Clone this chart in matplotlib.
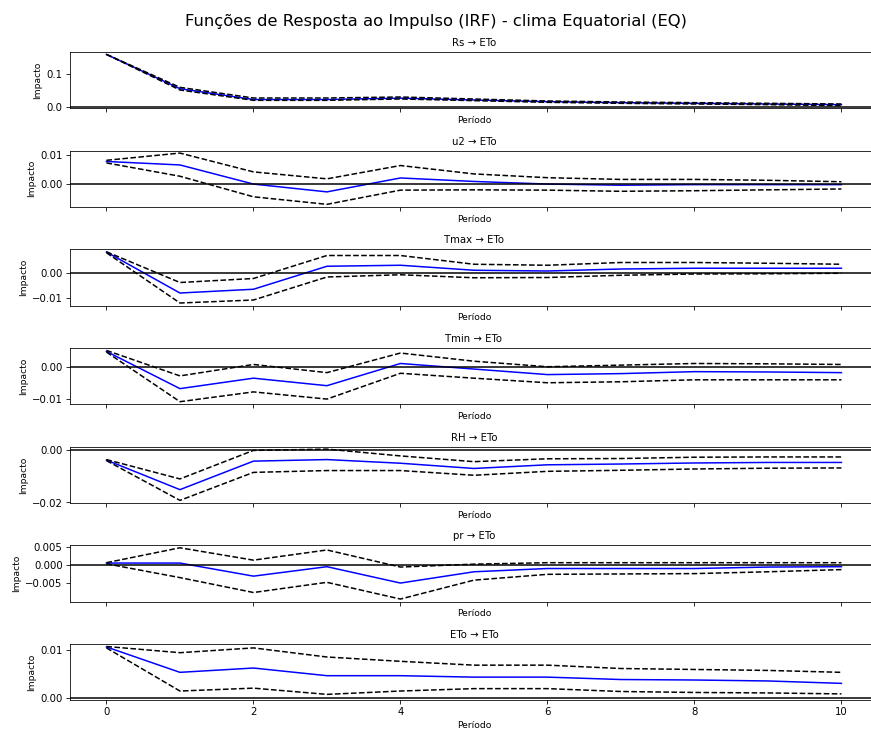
import numpy as np
import matplotlib
matplotlib.use("Agg")
import matplotlib.pyplot as plt

periodos = np.arange(11)
choques = ['Rs', 'u2', 'Tmax', 'Tmin', 'RH', 'pr', 'ETo']

# respostas de ETo (irf) e bandas de confianca (inf / sup)
irf_rs = [0.159, 0.056, 0.0235, 0.0235, 0.0275, 0.022, 0.017, 0.014, 0.012, 0.010, 0.008]
inf_rs = [0.159, 0.052, 0.021, 0.021, 0.025, 0.020, 0.015, 0.012, 0.010, 0.008, 0.005]
sup_rs = [0.159, 0.060, 0.028, 0.028, 0.031, 0.025, 0.019, 0.016, 0.014, 0.012, 0.010]

irf_u2 = [0.0079, 0.0067, 0.0001, -0.0026, 0.0022, 0.0010, 0.0001, -0.0003, -0.0001, -0.0001, -0.0001]
inf_u2 = [0.0074, 0.0028, -0.0043, -0.0069, -0.0020, -0.0019, -0.0020, -0.0024, -0.0022, -0.0019, -0.0016]
sup_u2 = [0.0083, 0.0108, 0.0043, 0.0019, 0.0065, 0.0036, 0.0023, 0.0017, 0.0017, 0.0014, 0.0009]

irf_tmax = [0.0084, -0.0080, -0.0065, 0.0027, 0.0031, 0.0011, 0.0008, 0.0016, 0.0019, 0.0019, 0.0019]
inf_tmax = [0.0081, -0.0120, -0.0108, -0.0016, -0.0007, -0.0019, -0.0018, -0.0009, -0.0004, -0.0003, -0.0001]
sup_tmax = [0.0085, -0.0038, -0.0022, 0.0070, 0.0070, 0.0035, 0.0031, 0.0042, 0.0042, 0.0039, 0.0035]

irf_tmin = [0.0047, -0.0067, -0.0035, -0.0058, 0.0010, -0.0007, -0.0024, -0.0021, -0.0015, -0.0016, -0.0018]
inf_tmin = [0.0045, -0.0107, -0.0077, -0.0099, -0.0020, -0.0035, -0.0049, -0.0046, -0.0040, -0.0040, -0.0040]
sup_tmin = [0.0050, -0.0028, 0.0007, -0.0018, 0.0042, 0.0017, 0.0000, 0.0005, 0.0010, 0.0009, 0.0007]

irf_rh = [-0.0038, -0.0151, -0.0042, -0.0036, -0.0050, -0.0070, -0.0056, -0.0053, -0.0049, -0.0047, -0.0047]
inf_rh = [-0.0040, -0.0192, -0.0085, -0.0078, -0.0078, -0.0096, -0.0081, -0.0077, -0.0072, -0.0069, -0.0068]
sup_rh = [-0.0036, -0.0110, -0.0001, 0.0004, -0.0022, -0.0044, -0.0033, -0.0032, -0.0027, -0.0026, -0.0026]

irf_pr = [0.0005, 0.0005, -0.0031, -0.0005, -0.0050, -0.0019, -0.0010, -0.0010, -0.0010, -0.0006, -0.0005]
inf_pr = [0.0003, -0.0035, -0.0076, -0.0048, -0.0094, -0.0042, -0.0026, -0.0025, -0.0024, -0.0019, -0.0013]
sup_pr = [0.0006, 0.0047, 0.0013, 0.0041, -0.0006, 0.0002, 0.0006, 0.0006, 0.0006, 0.0006, 0.0006]

irf_eto = [0.0106, 0.0053, 0.0062, 0.0046, 0.0046, 0.0043, 0.0043, 0.0038, 0.0037, 0.0035, 0.0030]
inf_eto = [0.0104, 0.0014, 0.0020, 0.0007, 0.0014, 0.0019, 0.0019, 0.0013, 0.0011, 0.0010, 0.0008]
sup_eto = [0.0107, 0.0094, 0.0104, 0.0085, 0.0076, 0.0068, 0.0068, 0.0061, 0.0059, 0.0057, 0.0053]

irfs = [irf_rs, irf_u2, irf_tmax, irf_tmin, irf_rh, irf_pr, irf_eto]
infs = [inf_rs, inf_u2, inf_tmax, inf_tmin, inf_rh, inf_pr, inf_eto]
sups = [sup_rs, sup_u2, sup_tmax, sup_tmin, sup_rh, sup_pr, sup_eto]

fig, axes = plt.subplots(7, 1, figsize=(12, 10.07), sharex=True)
fig.subplots_adjust(left=0.08, right=1.008, top=0.929, bottom=0.042, hspace=0.75)

for i, ax in enumerate(axes):
    ax.plot(periodos, irfs[i], 'b-')
    ax.plot(periodos, infs[i], 'k--')
    ax.plot(periodos, sups[i], 'k--')
    ax.axhline(0, color='black')
    ax.set_title(f'{choques[i]} \u2192 ETo', fontsize=10)
    ax.set_ylabel('Impacto', fontsize=9)
    ax.set_xlabel('Período', fontsize=9)

axes[5].set_yticks([-0.005, 0.0, 0.005])
axes[-1].set_xticks([0, 2, 4, 6, 8, 10])
fig.suptitle('Funções de Resposta ao Impulso (IRF) - clima Equatorial (EQ)', fontsize=16.3, y=0.981)

plt.savefig('out.png', dpi=72.6)
